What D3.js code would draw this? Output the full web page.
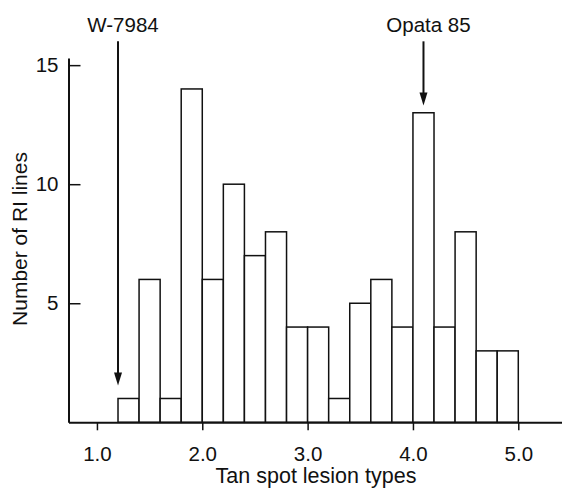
<!DOCTYPE html>
<html>
<head>
<meta charset="utf-8">
<script src="https://cdn.jsdelivr.net/npm/d3@7"></script>
<style>
    body { margin: 0; background: #fff; }
    svg { display: block; }
    text { font-family: "Liberation Sans", Arial, Helvetica, sans-serif; fill: #111; }
</style>
</head>
<body>
<svg id="chart" width="562" height="490"></svg>
<script>
// lesion type bins (left edge of each bar), width 0.2
const binStarts = [1.2, 1.4, 1.6, 1.8, 2.0, 2.2, 2.4, 2.6, 2.8, 3.0, 3.2, 3.4, 3.6, 3.8, 4.0, 4.2, 4.4, 4.6, 4.8];
const binWidth = 0.2;
// number of RI lines in each bin
const counts = [1, 6, 1, 14, 6, 10, 7, 8, 4, 4, 1, 5, 6, 4, 13, 4, 8, 3, 3];

const xTicks = [1, 2, 3, 4, 5];
const yTicks = [5, 10, 15];

// parent annotations
const parentLabels = ["W-7984", "Opata 85"];
const parentScores = [1.2, 4.1];
const arrowTips = [1.55, 13.3];
const arrowTop = 16;

const xTitle = "Tan spot lesion types";
const yTitle = "Number of RI lines";

const svg = d3.select("#chart");
const ink = "#111";

const x = d3.scaleLinear().domain([0.73, 5.415]).range([68.5, 562]);
const y = d3.scaleLinear().domain([0, 15.3]).range([422.3, 58]);

// bars
svg.append("g")
    .selectAll("rect")
    .data(binStarts)
    .join("rect")
        .attr("x", d => x(d))
        .attr("y", (d, i) => y(counts[i]))
        .attr("width", d => x(d + binWidth) - x(d))
        .attr("height", (d, i) => y(0) - y(counts[i]))
        .style("fill", "#fff")
        .style("stroke", ink)
        .style("stroke-width", 1.5);

// x axis
const xAxis = svg.append("g")
    .attr("transform", `translate(0,${y(0)})`)
    .call(d3.axisBottom(x)
        .tickValues(xTicks)
        .tickFormat(d3.format(".1f"))
        .tickSizeInner(8)
        .tickSizeOuter(0)
        .tickPadding(16));

// y axis, ticks point inward
const yAxis = svg.append("g")
    .attr("transform", `translate(${x.range()[0]},0)`)
    .call(d3.axisLeft(y)
        .tickValues(yTicks)
        .tickSizeInner(-12)
        .tickSizeOuter(0)
        .tickPadding(10));

[xAxis, yAxis].forEach(g => {
    g.select(".domain").style("stroke", ink).style("stroke-width", 2);
    g.selectAll(".tick line").style("stroke", ink).style("stroke-width", 1.5);
    g.selectAll(".tick text")
        .style("font-size", "20.5px")
        .style("fill", ink);
});

// axis titles
svg.append("text")
    .attr("x", 316)
    .attr("y", 483)
    .attr("text-anchor", "middle")
    .style("font-size", "21.5px")
    .text(xTitle);

svg.append("text")
    .attr("transform", "translate(27,239) rotate(-90)")
    .attr("text-anchor", "middle")
    .style("font-size", "21px")
    .text(yTitle);

// arrows pointing at the parents
parentLabels.forEach((label, i) => {
    let px = x(parentScores[i]);
    let tip = y(arrowTips[i]);

    svg.append("line")
        .attr("x1", px)
        .attr("x2", px)
        .attr("y1", y(arrowTop))
        .attr("y2", tip - 10)
        .style("stroke", ink)
        .style("stroke-width", 2);

    let head = d3.path();
    head.moveTo(px, tip);
    head.lineTo(px - 4, tip - 13);
    head.lineTo(px + 4, tip - 13);
    head.closePath();

    svg.append("path")
        .attr("d", head)
        .style("fill", ink);

    svg.append("text")
        .attr("x", px + 5)
        .attr("y", 32)
        .attr("text-anchor", "middle")
        .style("font-size", "20.5px")
        .text(label);
});
</script>
</body>
</html>
